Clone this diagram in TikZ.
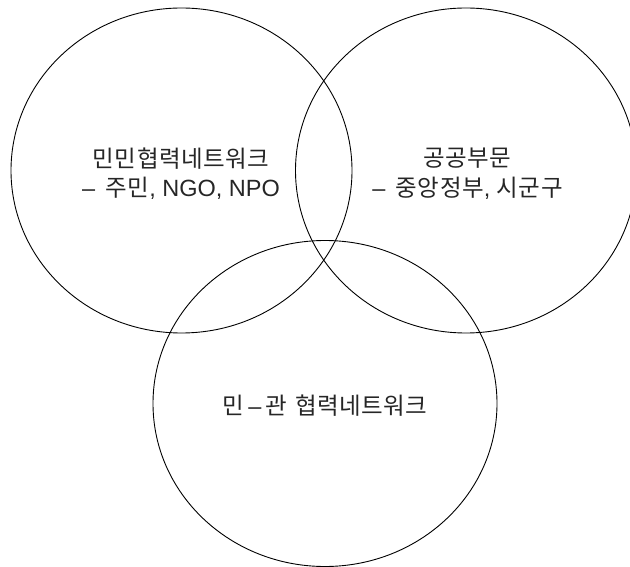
\documentclass[tikz,border=0pt]{standalone}
\usepackage{fontspec}
\setmainfont[LetterSpace=2]{Noto Sans CJK KR}
\newfontfamily\lat{Liberation Sans}
\usetikzlibrary{shapes.geometric}
\begin{document}
\begin{tikzpicture}[x=1pt,y=-1pt,
  venn/.style={draw=black,line width=0.9pt},
  lbl/.style={font=\fontsize{23.5}{29.5}\selectfont,align=center,inner sep=0pt,text=black!85}]
\useasboundingbox (0,0) rectangle (630,567);
\draw[venn] (181.5,170.5) ellipse [x radius=170.5, y radius=162.5];
\draw[venn] (466,170.5) ellipse [x radius=170.5, y radius=162.5];
\draw[venn] (325,403.5) ellipse [x radius=172, y radius=163];
\node[lbl] (a) at (181,173.5) {민민협력네트워크\\{\lat –\ \,}주민{\lat , NGO, NPO}};
\node[lbl] (b) at (467.5,173.5) {공공부문\\{\lat –\ \,}중앙정부{\lat ,\ }시군구};
\node[lbl] (c) at (325,406) {민{\lat \,–\,}관\hspace{8pt}협력네트워크};
\end{tikzpicture}
\end{document}
